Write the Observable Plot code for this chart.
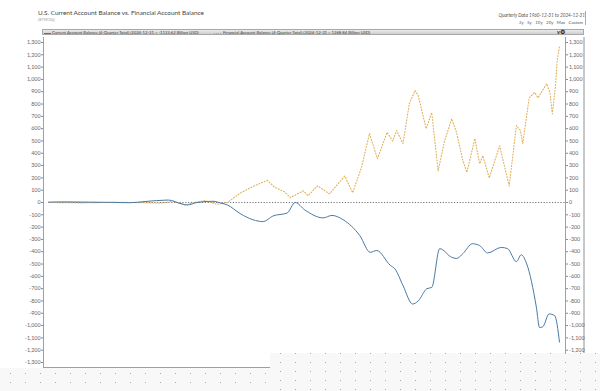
<!DOCTYPE html>
<html>
<head>
<meta charset="utf-8">
<script src="https://cdn.jsdelivr.net/npm/d3@7"></script>
<script src="https://cdn.jsdelivr.net/npm/@observablehq/plot@0.6"></script>
<style>
  html, body { margin: 0; padding: 0; background: #fff; }
  #wrap { position: relative; width: 600px; height: 391px; overflow: hidden; font-family: Lato, "Open Sans", sans-serif; }
  #wrap svg { position: absolute; left: 0; top: 0; }
  .abs { position: absolute; white-space: nowrap; }
  #title { left: 38px; top: 9px; font-size: 6.4px; color: #444; font-weight: 400; }
  #sub { left: 38px; top: 18px; font-size: 3.4px; color: #999; }
  #range { right: 15px; top: 12px; font-size: 4.7px; font-style: italic; color: #555; }
  #btns { right: 17px; top: 20px; font-size: 4.5px; font-style: italic; color: #555; word-spacing: 2.5px; }
  #rbar { left: 585px; top: 11px; width: 0.8px; height: 14px; background: #aaa; }
  #legend { left: 42px; top: 29px; width: 542px; height: 6px; background: linear-gradient(#ebebeb, #cecece); border: 0.5px solid #a8a8a8; box-sizing: border-box; }
  .lg { position: absolute; top: 0.4px; font-size: 4.2px; color: #444; line-height: 5px; }
  .sw { position: absolute; top: 2.6px; width: 7px; height: 0; }
  #icon { left: 557px; top: 29px; font-size: 5.5px; font-weight: bold; color: #222; line-height: 6px; }
  .ln { position: absolute; background: #a0a0a0; }
  .dots { position: absolute; background-color: #f8f8f8;
          background-image: radial-gradient(circle at 50% 50%, #a8a8a8 0, #a8a8a8 0.7px, transparent 1px);
          background-size: 15px 9px; background-position: 3px 1px; }
</style>
</head>
<body>
<div id="wrap">
  <div class="ln" style="left:43px; top:37px; width:0.8px; height:331px;"></div>
  <div class="ln" style="left:565px; top:37px; width:0.8px; height:331px;"></div>
  <div class="ln" style="left:43px; top:367px; width:542px; height:0.8px;"></div>
  <div class="ln" style="left:583px; top:37px; width:2px; height:331px; background:#c8c8c8;"></div>
  <div id="chart"></div>
  <div class="abs" id="title">U.S. Current Account Balance vs. Financial Account Balance</div>
  <div class="abs" id="sub">(IETMCSQ)</div>
  <div class="abs" id="range">Quarterly Data 1960-12-31 to 2024-12-31</div>
  <div class="abs" id="btns">3y 5y 10y 20y Max Custom</div>
  <div class="abs" id="rbar"></div>
  <div class="abs" id="legend">
    <div class="sw" style="left:1px; border-top:0.9px solid #4677a3;"></div>
    <div class="lg" id="lg1" style="left:9px;"></div>
    <div class="sw" style="left:171px; border-top:0.9px dotted #d9a441;"></div>
    <div class="lg" id="lg2" style="left:180px;"></div>
  </div>
  <div class="abs" id="icon">v&#9881;</div>
  <div class="dots" style="left:0; top:368px; width:600px; height:23px;"></div>
  <div class="dots" style="left:270px; top:353px; width:330px; height:38px; background-position: 3px 5px;"></div>
</div>
<script>
// ---- data (billion USD, 4-quarter totals), x = decimal year ----
const currentYears = [1960.9, 1963, 1966, 1969, 1971, 1973, 1975.9, 1977.5, 1978.3, 1979.5, 1981.5, 1982.5, 1983.3, 1984.9, 1986.5, 1987.8, 1989, 1990.8, 1991.8, 1993, 1995.3, 1996.4, 1997.8, 1999.9, 2001.2, 2002, 2003.7, 2004.3, 2005.3, 2006.5, 2007.2, 2008.3, 2008.9, 2009.9, 2011.4, 2012, 2012.8, 2014, 2014.9, 2015.9, 2017.6, 2018.4, 2019.5, 2020.1, 2020.8, 2022, 2022.4, 2022.8, 2023.6, 2024.3, 2024.9];
const currentValues = [3, 5, 3, 1, -2, 8, 20, -10, -20, 0, 10, -5, -20, -90, -140, -155, -110, -85, 0, -60, -125, -105, -140, -270, -405, -390, -510, -540, -675, -825, -800, -700, -690, -375, -445, -455, -415, -335, -350, -410, -365, -375, -480, -425, -500, -850, -1015, -1010, -905, -920, -1133.62];

const financialYears = [1960.9, 1965, 1970, 1975, 1976.5, 1978, 1979.5, 1980.5, 1982, 1983.3, 1985, 1986.5, 1988.3, 1989.2, 1990.5, 1991.2, 1992.8, 1993.4, 1994.6, 1996.1, 1998, 1999, 2000.1, 2001.1, 2002.1, 2003.3, 2004, 2004.5, 2005.3, 2006.1, 2006.8, 2007.2, 2008.2, 2008.9, 2009.7, 2010.5, 2011.4, 2012, 2012.8, 2013.3, 2014.3, 2014.9, 2015.3, 2016.1, 2017.4, 2018.6, 2019.5, 2020, 2020.3, 2021.1, 2021.8, 2022.2, 2023.3, 2023.7, 2024.0, 2024.4, 2024.6, 2024.9];
const financialValues = [0, -3, 2, -5, 10, -20, 5, 15, -15, 0, 80, 130, 180, 125, 85, 40, 95, 55, 135, 70, 215, 80, 285, 560, 355, 570, 500, 585, 480, 805, 910, 870, 600, 730, 255, 500, 680, 570, 340, 245, 520, 315, 380, 200, 460, 135, 625, 585, 480, 850, 895, 850, 965, 895, 720, 950, 1150, 1268.84];

const leftTicks = [1300, 1200, 1100, 1000, 900, 800, 700, 600, 500, 400, 300, 200, 100, 0, -100, -200, -300, -400, -500, -600, -700, -800, -900, -1000, -1100, -1200, -1300];
const rightTicks = [1300, 1200, 1100, 1000, 900, 800, 700, 600, 500, 400, 300, 200, 100, 0, -100, -200, -300, -400, -500, -600, -700, -800, -900, -1000, -1100, -1200];

const seriesNames = ["Current Account Balance (4-Quarter Total) (2024-12-31 = -1133.62 Billion USD)",
                     "Financial Account Balance (4-Quarter Total) (2024-12-31 = 1268.84 Billion USD)"];

document.getElementById("lg1").textContent = seriesNames[0];
document.getElementById("lg2").textContent = seriesNames[1];

const current = currentYears.map((t, i) => ({t, v: currentValues[i]}));
const financial = financialYears.map((t, i) => ({t, v: financialValues[i]}));
const fmt = d => d3.format(",")(d).replace("\u2212", "-");

const chart = Plot.plot({
  width: 600,
  height: 391,
  marginLeft: 43,
  marginRight: 35,
  marginTop: 37,
  marginBottom: 24,
  style: {background: "transparent", fontFamily: "Lato, 'Open Sans', sans-serif", color: "#666"},
  x: {domain: [1960.9, 2024.9], range: [48, 559], axis: null},
  y: {domain: [-1300, 1300], range: [362, 42], axis: null},
  marks: [
    Plot.axisY(leftTicks, {anchor: "left", label: null, tickSize: 2, tickPadding: 1, fontSize: 5.3, tickFormat: fmt, stroke: "#888", fill: "#666"}),
    Plot.axisY(rightTicks, {anchor: "right", label: null, tickSize: 2, tickPadding: 1.5, fontSize: 5.3, tickFormat: fmt, stroke: "#888", fill: "#666"}),
    Plot.ruleY([0], {x1: 1960.9, x2: 2025.7, stroke: "#666", strokeWidth: 0.9, strokeDasharray: "1.2,1.6"}),
    Plot.line(financial, {x: "t", y: "v", curve: "linear", stroke: "#dfb15a", strokeWidth: 1.1, strokeDasharray: "1,1.9"}),
    Plot.line(current, {x: "t", y: "v", curve: "monotone-x", stroke: "#4a7aa4", strokeWidth: 1})
  ]
});
document.getElementById("chart").appendChild(chart);
</script>
</body>
</html>
